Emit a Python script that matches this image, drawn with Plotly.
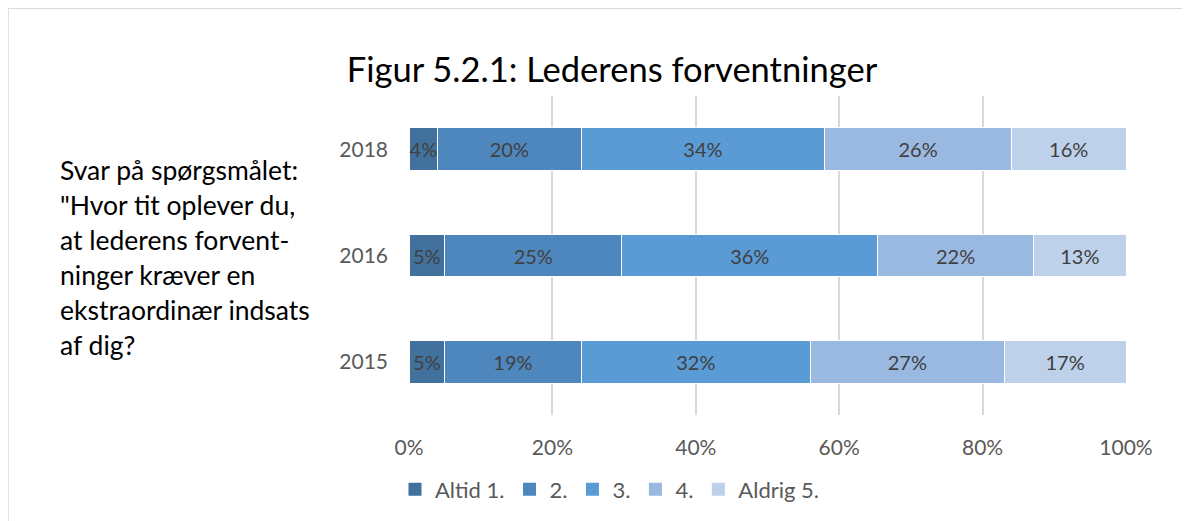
import plotly.graph_objects as go

years = ["2015", "2016", "2018"]
series_names = ["Altid 1.", "2.", "3.", "4.", "Aldrig 5."]
altid1 = [5, 5, 4]
s2 = [19, 25, 20]
s3 = [32, 36, 34]
s4 = [27, 22, 26]
aldrig5 = [17, 13, 16]
series_values = [altid1, s2, s3, s4, aldrig5]
colors = ["#41719c", "#4e87bd", "#5b9bd5", "#9ab9e1", "#bdd1ea"]
x_ticks = [0, 20, 40, 60, 80, 100]
title_text = "Figur 5.2.1: Lederens forventninger"
side_lines = ["Svar på spørgsmålet:", "\"Hvor tit oplever du,", "at lederens forvent-",
              "ninger kræver en", "ekstraordinær indsats", "af dig?"]

FONT = "Lato"
OFF = 8  # page body margin offset
FW, FH = 1190 - OFF, 521 - OFF

fig = go.Figure()
for name, vals, col in zip(series_names, series_values, colors):
    fig.add_trace(go.Bar(
        y=years, x=vals, name=name, orientation="h", showlegend=False,
        marker=dict(color=col, line=dict(color="white", width=1)),
        text=[f"{v}%" for v in vals], textposition="inside", textangle=0,
        insidetextanchor="middle",
        textfont=dict(color="#404040", size=20, family=FONT),
        hoverinfo="skip",
    ))
# legend entries with larger square swatches
for name, col in zip(series_names, colors):
    fig.add_trace(go.Scatter(
        x=[None], y=[None], mode="markers", name=name,
        marker=dict(symbol="square", size=13, color=col),
        hoverinfo="skip",
    ))

# target pixel positions in the page
L_pix, R_pix, T_pix, B_pix = 409, 1126, 96, 415.5
L = L_pix - OFF
T = T_pix - OFF
R = FW - (R_pix - OFF)
B = FH - (B_pix - OFF)
H = B_pix - T_pix
W = R_pix - L_pix

def px(xp):
    return (xp - L_pix) / W

def py(yp):
    return (B_pix - yp) / H

annotations = []
for i, line in enumerate(side_lines):
    ypix = 170 + 35 * i
    annotations.append(dict(
        x=px(58), y=py(ypix), xref="paper", yref="paper",
        text=line, showarrow=False, xanchor="left", yanchor="middle",
        font=dict(size=26.5, color="#000000", family=FONT), align="left"))

bx = px(8)
by = py(8)
shapes = [
    dict(type="line", xref="paper", yref="paper", x0=bx, x1=bx, y0=-2, y1=by,
         line=dict(color="#d9d9d9", width=1.5)),
    dict(type="line", xref="paper", yref="paper", x0=bx, x1=3, y0=by, y1=by,
         line=dict(color="#d9d9d9", width=1.5)),
]

fig.update_layout(
    barmode="stack", barnorm="percent", bargap=0.6,
    width=FW, height=FH,
    margin=dict(l=L, r=R, t=T, b=B, autoexpand=False),
    paper_bgcolor="white", plot_bgcolor="white",
    font=dict(family=FONT, color="#595959"),
    title=dict(text=title_text, x=(612 - OFF) / FW, xref="container", xanchor="center",
               y=1 - (70 - OFF) / FH, yref="container", yanchor="middle",
               font=dict(size=34.5, color="#000000", family=FONT)),
    uniformtext=dict(minsize=20, mode="show"),
    legend=dict(orientation="h", x=px(610), xanchor="center",
                y=py(490), yanchor="middle",
                font=dict(size=22, color="#595959", family=FONT),
                traceorder="normal", itemclick=False, itemwidth=30),
    annotations=annotations,
    shapes=shapes,
    showlegend=True,
)
fig.update_xaxes(range=[0, 100], tickvals=x_ticks, ticktext=[f"{v}%" for v in x_ticks],
                 showgrid=True, gridcolor="#d9d9d9", gridwidth=2, zeroline=False,
                 showline=False, tickfont=dict(size=21, color="#595959", family=FONT),
                 ticks="", ticklabelstandoff=18, fixedrange=True)
fig.update_yaxes(categoryorder="array", categoryarray=years, showgrid=False,
                 showline=False, tickfont=dict(size=21, color="#595959", family=FONT),
                 ticks="", ticklabelstandoff=20, fixedrange=True)

fig.write_html("out.html")
